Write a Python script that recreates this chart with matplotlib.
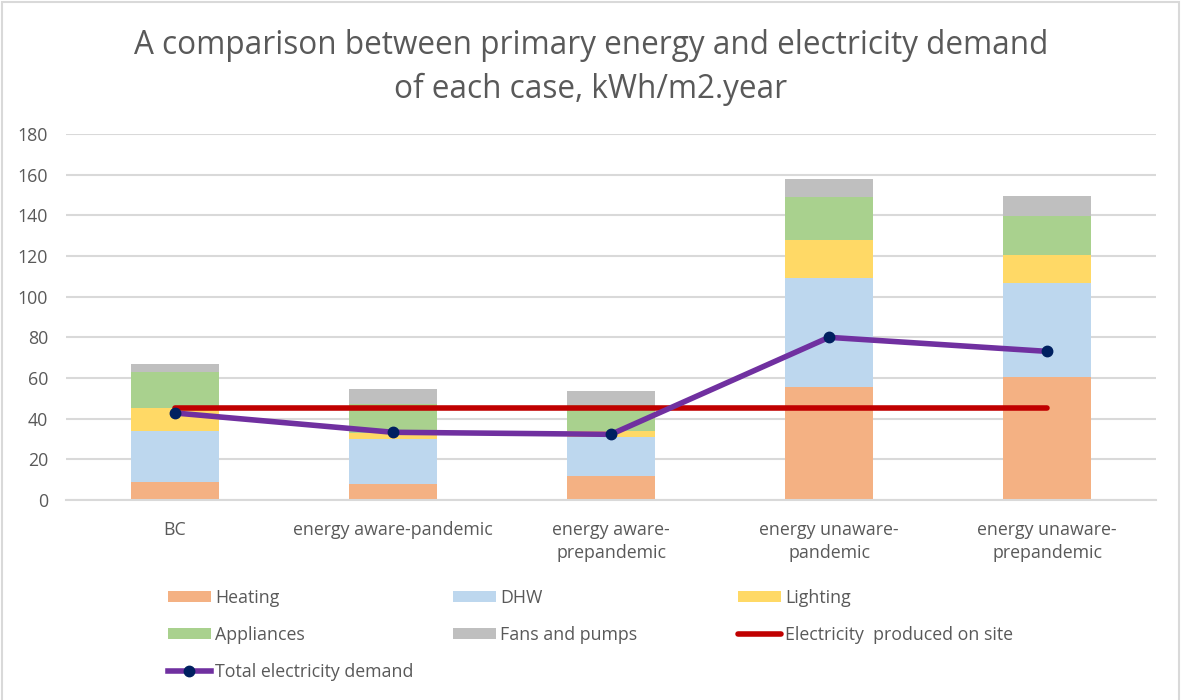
import numpy as np
import matplotlib
matplotlib.use("Agg")
from matplotlib import pyplot as plt
from matplotlib.patches import Rectangle

plt.rcParams['font.family'] = ['Open Sans', 'DejaVu Sans']

# Cases compared
cases = ['BC', 'energy aware-pandemic', 'energy aware-\nprepandemic',
         'energy unaware-\npandemic', 'energy unaware-\nprepandemic']

# Primary energy breakdown, kWh/m2.year
heating = [9.0, 7.9, 11.6, 55.7, 60.3]
dhw = [24.8, 21.9, 19.5, 53.5, 46.3]
lighting = [11.6, 3.3, 2.8, 18.5, 14.1]
appliances = [17.6, 14.1, 12.8, 21.2, 19.2]
fans_pumps = [3.7, 7.2, 7.1, 9.0, 9.6]

# Electricity lines
produced_on_site = [45.3, 45.3, 45.3, 45.3, 45.3]
total_electricity = [42.8, 33.3, 32.3, 80.0, 73.1]

stack_names = ['Heating', 'DHW', 'Lighting', 'Appliances', 'Fans and pumps']
stack_values = [heating, dhw, lighting, appliances, fans_pumps]
stack_colors = ['#F4B183', '#BDD7EE', '#FFD966', '#A9D18E', '#BFBFBF']

grey_text = '#595959'
fs = 12.8

fig = plt.figure(figsize=(11.82, 7.0), dpi=100)
ax = fig.add_axes([66 / 1182, 1 - 500 / 700, 1090 / 1182, 366 / 700])

x = np.arange(len(cases))
bottom = np.zeros(len(cases))
handles = {}
for name, vals, col in zip(stack_names, stack_values, stack_colors):
    bars = ax.bar(x, vals, width=0.4, bottom=bottom, color=col, label=name, zorder=2)
    handles[name] = bars
    bottom += np.array(vals)

red, = ax.plot(x, produced_on_site, color='#C00000', lw=4, solid_capstyle='round',
               zorder=3, label='Electricity  produced on site')
purple, = ax.plot(x, total_electricity, color='#7030A0', lw=4, marker='o', ms=7.5,
                  mfc='#002060', mec='#002060', zorder=4, label='Total electricity demand')

ax.set_xlim(-0.5, 4.5)
ax.set_ylim(0, 180)
ax.set_yticks(np.arange(0, 181, 20))
ax.yaxis.grid(True, color='#D9D9D9', lw=1.5, zorder=0)
ax.set_axisbelow(True)
for side in ['top', 'right', 'left']:
    ax.spines[side].set_visible(False)
ax.spines['bottom'].set_color('#D9D9D9')
ax.spines['bottom'].set_linewidth(1.5)
ax.tick_params(axis='both', length=0, colors=grey_text, labelsize=fs)
ax.tick_params(axis='y', pad=13)
ax.tick_params(axis='x', pad=15)
ax.set_xticks(x)
ax.set_xticklabels(cases, linespacing=1.4)

fig.text(0.5, 1 - 46 / 700, 'A comparison between primary energy and electricity demand',
         ha='center', va='center', fontsize=22.7, color=grey_text)
fig.text(0.5, 1 - 89 / 700, 'of each case, kWh/m2.year',
         ha='center', va='center', fontsize=22.7, color=grey_text)

# legend laid out in three fixed columns
columns = [
    (168, [handles['Heating'], handles['Appliances'], purple],
     ['Heating', 'Appliances', 'Total electricity demand']),
    (453, [handles['DHW'], handles['Fans and pumps']], ['DHW', 'Fans and pumps']),
    (738, [handles['Lighting'], red], ['Lighting', 'Electricity  produced on site']),
]
for xpix, hs, labs in columns:
    leg = fig.legend(hs, labs, loc='upper left', bbox_to_anchor=(xpix / 1182, 1 - 589 / 700),
                     frameon=False, fontsize=fs, labelcolor=grey_text, handlelength=2.4,
                     handleheight=0.6, handletextpad=0.25, labelspacing=1.06,
                     borderpad=0, borderaxespad=0)

# chart border
fig.add_artist(Rectangle((2 / 1182, -0.01), 1177 / 1182, 0.01 + 698 / 700,
                         transform=fig.transFigure, fill=False, ec='#D9D9D9', lw=1.5))

fig.savefig('out.png', dpi=100, facecolor='white')
